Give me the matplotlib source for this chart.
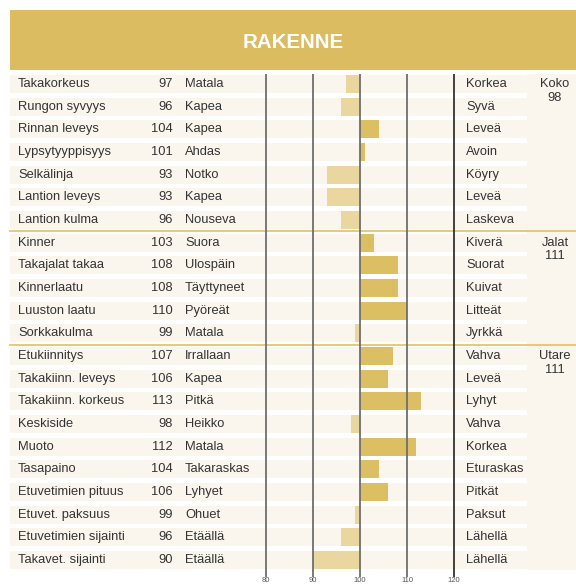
import matplotlib
matplotlib.use("Agg")
import matplotlib.pyplot as plt
from matplotlib.patches import Rectangle

plt.rcParams['font.family'] = ['Liberation Sans', 'DejaVu Sans']

title = "RAKENNE"
traits = ["Takakorkeus", "Rungon syvyys", "Rinnan leveys", "Lypsytyyppisyys", "Selkälinja",
          "Lantion leveys", "Lantion kulma",
          "Kinner", "Takajalat takaa", "Kinnerlaatu", "Luuston laatu", "Sorkkakulma",
          "Etukiinnitys", "Takakiinn. leveys", "Takakiinn. korkeus", "Keskiside", "Muoto",
          "Tasapaino", "Etuvetimien pituus", "Etuvet. paksuus", "Etuvetimien sijainti",
          "Takavet. sijainti"]
values = [97, 96, 104, 101, 93, 93, 96,
          103, 108, 108, 110, 99,
          107, 106, 113, 98, 112, 104, 106, 99, 96, 90]
low_labels = ["Matala", "Kapea", "Kapea", "Ahdas", "Notko", "Kapea", "Nouseva",
              "Suora", "Ulospäin", "Täyttyneet", "Pyöreät", "Matala",
              "Irrallaan", "Kapea", "Pitkä", "Heikko", "Matala", "Takaraskas",
              "Lyhyet", "Ohuet", "Etäällä", "Etäällä"]
high_labels = ["Korkea", "Syvä", "Leveä", "Avoin", "Köyry", "Leveä", "Laskeva",
               "Kiverä", "Suorat", "Kuivat", "Litteät", "Jyrkkä",
               "Vahva", "Leveä", "Lyhyt", "Vahva", "Korkea", "Eturaskas",
               "Pitkät", "Paksut", "Lähellä", "Lähellä"]
group_names = ["Koko", "Jalat", "Utare"]
group_values = [98, 111, 111]
group_sizes = [7, 5, 10]
ticks = [80, 90, 100, 110, 120]

# colours
HEADER = "#dcbc60"
BAR_HI = "#dcbe63"
BAR_LO = "#ead79f"
ROW_BG = "#faf6ee"
SEP = "#e2c66c"
TXT = "#333333"

W, H = 576, 585
fig = plt.figure(figsize=(W / 100, H / 100), dpi=100)
ax = fig.add_axes([0, 0, 1, 1])

# pixel layout -> data mapping (x: value units, y: row index)
PX100, PXU = 360.0, 4.7          # pixel of value 100, pixels per unit
ROW0, PITCH = 84.0, 22.667       # centre of first row, row pitch (px)


def X(px):
    return 100 + (px - PX100) / PXU


def Y(py):
    return (py - ROW0) / PITCH


ax.set_xlim(X(0), X(W))
ax.set_ylim(Y(H), Y(0))
ax.axis("off")

n = len(traits)
rh = 18 / PITCH

# header band
ax.add_patch(Rectangle((X(10), Y(10)), X(576) - X(10), Y(70) - Y(10),
                       facecolor=HEADER, edgecolor="none", zorder=1))
ax.text(X(293), Y(42.5), title, color="white", fontsize=14.8, fontweight="bold",
        ha="center", va="center", zorder=3)

# right column background
ax.add_patch(Rectangle((X(527), Y(74)), X(576) - X(527), Y(570) - Y(74),
                       facecolor=ROW_BG, edgecolor="none", zorder=1))

# row backgrounds
for i in range(n):
    ax.add_patch(Rectangle((X(10), i - rh / 2), X(527) - X(10), rh,
                           facecolor=ROW_BG, edgecolor="none", zorder=1))

# bars
colors = [BAR_HI if v >= 100 else BAR_LO for v in values]
ax.barh(range(n), [v - 100 for v in values], left=100, height=rh,
        color=colors, edgecolor="none", zorder=2)

# grid lines
for t in ticks:
    col = "#222222" if t == 120 else "#6e6e6e"
    lw = 1.2 if t == 120 else 1.3
    ax.plot([t, t], [Y(74), Y(577)], color=col, lw=lw, zorder=4,
            solid_capstyle="butt")
    ax.text(t, Y(584.5), str(t), fontsize=5.5, color="#555555", ha="center",
            va="bottom", zorder=4)

# text
fs = 9.3
for i in range(n):
    ax.text(X(18), i, traits[i], fontsize=fs, color=TXT, ha="left", va="center", zorder=5)
    ax.text(X(173), i, str(values[i]), fontsize=fs, color=TXT, ha="right", va="center", zorder=5)
    ax.text(X(185), i, low_labels[i], fontsize=fs, color=TXT, ha="left", va="center", zorder=5)
    ax.text(X(466), i, high_labels[i], fontsize=fs, color=TXT, ha="left", va="center", zorder=5)

# group separators and labels
start = 0
for g, (name, gv, size) in enumerate(zip(group_names, group_values, group_sizes)):
    ax.text(X(555), start - 0.27, f"{name}\n{gv}", fontsize=fs, color=TXT,
            ha="center", va="top", linespacing=1.2, zorder=5)
    if g > 0:
        ax.plot([X(10), X(576)], [start - 0.5, start - 0.5], color=SEP, lw=1.3, zorder=3)
    start += size

fig.savefig("out.png", dpi=100)
